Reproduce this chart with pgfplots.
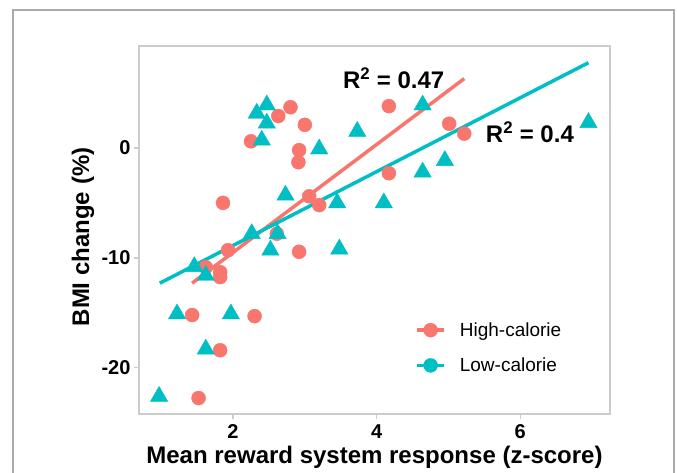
\documentclass[border=0pt]{standalone}
\usepackage{pgfplots}
\pgfplotsset{compat=1.18}
\usepackage{fontspec}
\setmainfont{Liberation Sans}
\definecolor{hicol}{HTML}{F8766D}
\definecolor{locol}{HTML}{00BFC4}
\definecolor{bordergray}{HTML}{CCCCCC}
\definecolor{framegray}{HTML}{AAAAAA}
\begin{document}
\begin{tikzpicture}
\useasboundingbox (0,0) rectangle (677bp,473bp);
\fill[white] (0,0) rectangle (677bp,473bp);
\draw[line width=1.2bp, framegray] (13bp,-5bp) -- (13bp,463bp) -- (674bp,463bp) -- (674bp,-5bp);
\begin{axis}[
  at={(139bp,59bp)}, anchor=south west,
  scale only axis, width=471bp, height=368bp,
  xmin=0.69, xmax=7.25, ymin=-24.2, ymax=9.27,
  xtick={2,4,6}, ytick={-20,-10,0},
  axis line style={bordergray, line width=1.3bp},
  tick style={bordergray, line width=1.3bp},
  tick align=outside, major tick length=5bp,
  xtick pos=bottom, ytick pos=left,
  /pgf/number format/assume math mode=true,
  ticklabel style={font=\fontsize{20bp}{24bp}\selectfont\bfseries},
  xticklabel style={yshift=-2bp},
  xlabel={Mean reward system response (z-score)},
  xlabel style={font=\fontsize{24bp}{28bp}\selectfont\bfseries, at={(axis description cs:0.5,-0.117)}, anchor=center},
  ylabel={BMI change (\%)},
  ylabel style={font=\fontsize{24bp}{28bp}\selectfont\bfseries, at={(axis description cs:-0.119,0.481)}, anchor=center},
  legend style={at={(axis description cs:0.58,0.26)}, anchor=north west, draw=none, fill=none,
    font=\fontsize{19bp}{22bp}\selectfont, row sep=16bp,
    /tikz/every odd column/.append style={column sep=12bp}},
  legend cell align=left,
]
\addplot[only marks, mark=*, mark size=7bp, color=hicol, forget plot] coordinates {
(2.25,0.6) (2.63,2.9) (2.80,3.7) (3.00,2.1) (2.92,-0.2) (2.91,-1.3) (1.86,-5.0)
(3.06,-4.4) (3.20,-5.2) (4.17,3.8) (4.17,-2.3) (5.01,2.2) (5.22,1.3) (1.93,-9.3)
(2.92,-9.45) (2.61,-7.8) (1.82,-11.3) (1.82,-11.75) (1.62,-10.85) (1.43,-15.2)
(2.30,-15.3) (1.82,-18.4) (1.52,-22.75)
};
\addplot[only marks, mark=triangle*, mark size=10bp, color=locol, forget plot] coordinates {
(2.47,3.9) (2.33,3.15) (2.47,2.25) (2.40,0.7) (3.20,-0.1) (3.73,1.5) (2.73,-4.3)
(3.45,-5.0) (4.10,-5.0) (4.64,3.9) (6.95,2.3) (4.95,-1.15) (4.64,-2.2) (2.26,-7.8)
(2.62,-7.8) (2.52,-9.3) (3.48,-9.2) (1.46,-10.8) (1.62,-11.6) (1.22,-15.1)
(1.97,-15.1) (1.62,-18.3) (0.97,-22.6)
};
\addplot[no marks, hicol, line width=3.5bp, forget plot] coordinates {(1.43,-12.3) (5.22,6.3)};
\addplot[no marks, locol, line width=3.5bp, forget plot] coordinates {(0.98,-12.3) (6.95,7.75)};
\node[anchor=west, font=\fontsize{24bp}{28bp}\selectfont\bfseries, inner sep=0pt] at (axis cs:3.53,6.36) {R\textsuperscript{2} = 0.47};
\node[anchor=west, font=\fontsize{24bp}{28bp}\selectfont\bfseries, inner sep=0pt] at (axis cs:5.52,1.4) {R\textsuperscript{2} = 0.4};
\addlegendimage{legend image code/.code={\draw[hicol, line width=3.5bp] (0bp,0bp) -- (27bp,0bp); \fill[hicol] (13.5bp,0bp) circle (7bp);}}
\addlegendentry{High-calorie}
\addlegendimage{legend image code/.code={\draw[locol, line width=3.5bp] (0bp,0bp) -- (27bp,0bp); \fill[locol] (13.5bp,0bp) circle (7bp);}}
\addlegendentry{Low-calorie}
\end{axis}
\end{tikzpicture}
\end{document}
